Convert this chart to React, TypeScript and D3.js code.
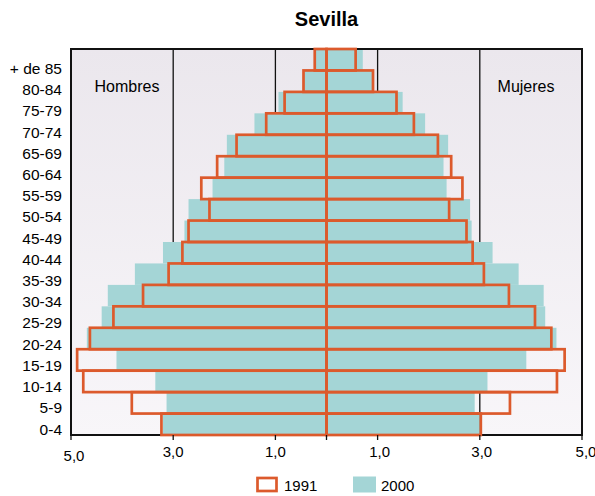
import * as d3 from "d3";

// age groups, top to bottom as drawn
const ages = [
  "+ de 85", "80-84", "75-79", "70-74", "65-69", "60-64", "55-59", "50-54", "45-49",
  "40-44", "35-39", "30-34", "25-29", "20-24", "15-19", "10-14", "5-9", "0-4",
];

// percent of population
const men1991 = [0.23, 0.45, 0.82, 1.18, 1.76, 2.14, 2.45, 2.29, 2.7, 2.82, 3.09, 3.59, 4.17, 4.63, 4.88, 4.76, 3.81, 3.23];
const men2000 = [0.21, 0.44, 0.94, 1.41, 1.95, 2.0, 2.23, 2.7, 2.78, 3.2, 3.75, 4.28, 4.4, 4.69, 4.11, 3.35, 3.13, 3.2];
const women1991 = [0.57, 0.91, 1.37, 1.71, 2.18, 2.44, 2.66, 2.4, 2.74, 2.86, 3.08, 3.57, 4.08, 4.4, 4.66, 4.51, 3.59, 3.02];
const women2000 = [0.71, 0.92, 1.49, 1.93, 2.38, 2.29, 2.35, 2.81, 2.84, 3.25, 3.76, 4.25, 4.28, 4.5, 3.91, 3.15, 2.9, 3.0];

const gridValues = [1, 3];
const tickValues = [0, 1, 3, 5];

const ORANGE = "#dc5a2c";
const TEAL = "#a4d5d6";
const FONT = "'Liberation Sans', Arial, Helvetica, sans-serif";

export default function App() {
  const width = 595;
  const height = 496;
  const left = 71;
  const right = 582;
  const top = 49;
  const bottom = 435;
  const center = (left + right) / 2;

  const xMen = d3.scaleLinear().domain([0, 5]).range([center, left]);
  const xWomen = d3.scaleLinear().domain([0, 5]).range([center, right]);
  const y = d3.scaleBand().domain(ages).range([top, bottom]).padding(0);
  const yLabel = d3.scalePoint().domain(ages).range([74, 434.5]);

  const fmt = (v: number) => v.toFixed(1).replace(".", ",");

  return (
    <svg
      width={width}
      height={height}
      style={{ position: "absolute", left: 0, top: 0, fontFamily: FONT }}
    >
      <defs>
        <linearGradient id="bg" x1="0" y1="0" x2="0" y2="1">
          <stop offset="0" stopColor="#ebe7ed" />
          <stop offset="1" stopColor="#f8f6f9" />
        </linearGradient>
      </defs>
      <rect x={0} y={0} width={width} height={height} fill="#fff" />

      <text x={center} y={26} textAnchor="middle" fontSize={20} fontWeight="bold">
        Sevilla
      </text>

      {/* plot background */}
      <rect x={left} y={top} width={right - left} height={bottom - top} fill="url(#bg)" />

      {/* grid */}
      {gridValues.flatMap((v) => [xMen(v), xWomen(v)]).map((gx, i) => (
        <line key={i} x1={gx} x2={gx} y1={top} y2={bottom} stroke="#111" strokeWidth={1.3} />
      ))}

      <text x={127} y={92} textAnchor="middle" fontSize={16}>Hombres</text>
      <text x={526} y={92} textAnchor="middle" fontSize={16}>Mujeres</text>

      {/* 2000 bars */}
      {ages.map((a, i) => (
        <g key={"t" + a}>
          <rect x={xMen(men2000[i])} y={y(a)} width={center - xMen(men2000[i])} height={y.bandwidth()} fill={TEAL} />
          <rect x={center} y={y(a)} width={xWomen(women2000[i]) - center} height={y.bandwidth()} fill={TEAL} />
        </g>
      ))}

      {/* frame */}
      <rect x={left} y={top} width={right - left} height={bottom - top} fill="none" stroke="#111" strokeWidth={2} />

      {/* 1991 outlines */}
      {ages.map((a, i) => (
        <g key={"o" + a} fill="none" stroke={ORANGE} strokeWidth={2.7}>
          <rect x={xMen(men1991[i])} y={y(a)} width={center - xMen(men1991[i])} height={y.bandwidth()} />
          <rect x={center} y={y(a)} width={xWomen(women1991[i]) - center} height={y.bandwidth()} />
        </g>
      ))}

      {/* age labels */}
      {ages.map((a) => (
        <text key={"l" + a} x={62} y={yLabel(a)} textAnchor="end" fontSize={15.5}>
          {a}
        </text>
      ))}

      {/* x axis ticks */}
      {tickValues.flatMap((v) => (v === 0 ? [center] : [xMen(v), xWomen(v)])).map((tx, i) => (
        <line key={"k" + i} x1={tx} x2={tx} y1={bottom} y2={bottom + 5} stroke="#111" strokeWidth={1.3} />
      ))}
      {tickValues.filter((v) => v > 0).map((v) => (
        <g key={"tl" + v} fontSize={15}>
          <text x={xMen(v) + (v === 5 ? 3 : 0)} y={v === 5 ? 461 : 457} textAnchor="middle">{fmt(v)}</text>
          <text x={xWomen(v) + (v === 5 ? 4 : 2)} y={457} textAnchor="middle">{fmt(v)}</text>
        </g>
      ))}

      {/* legend */}
      <rect x={257.5} y={478} width={19} height={13} fill="#fff" stroke={ORANGE} strokeWidth={2.7} />
      <text x={284} y={491} fontSize={15}>1991</text>
      <rect x={353} y={476.5} width={23} height={16} fill={TEAL} />
      <text x={381} y={491} fontSize={15}>2000</text>
    </svg>
  );
}
